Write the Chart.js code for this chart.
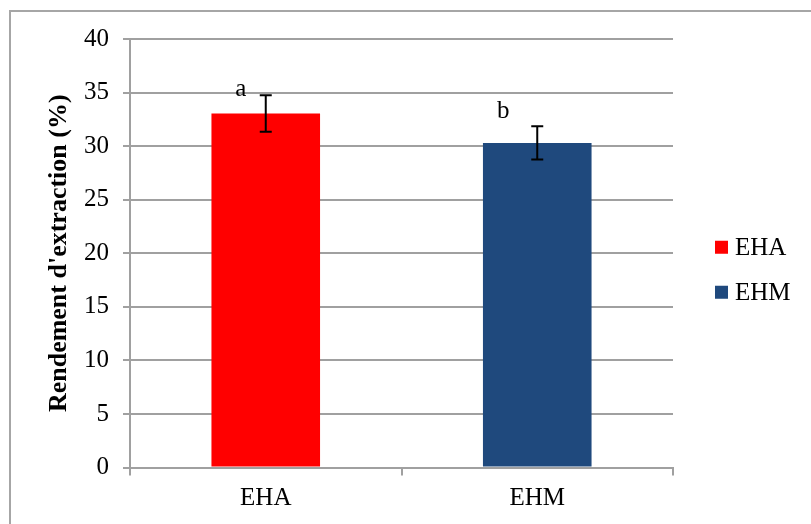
<!DOCTYPE html>
<html>
<head>
<meta charset="utf-8">
<script src="https://cdn.jsdelivr.net/npm/chart.js@4/dist/chart.umd.min.js"></script>
<style>
  body { margin: 0; background: #fff; }
  #wrap { position: relative; width: 811px; height: 524px; overflow: hidden; }
  #frame { position: absolute; left: 9px; top: 10px; width: 900px; height: 600px;
           border-left: 2px solid #a6a6a6; border-top: 2px solid #a6a6a6; }
  canvas { position: absolute; left: 0; top: 0; }
</style>
</head>
<body>
<div id="wrap">
  <div id="frame"></div>
  <canvas id="chart" width="811" height="524"></canvas>
</div>
<script>
const categories = ['EHA', 'EHM'];
const values = [33.05, 30.3];
const errors = [1.7, 1.55];
const letters = ['a', 'b'];
const yTicks = [0, 5, 10, 15, 20, 25, 30, 35, 40];

const barColors = ['#ff0000', '#1f497d'];
const serif = "'Liberation Serif', 'Times New Roman', serif";

// one dataset per category so the legend lists both
function getDataSets() {
  return categories.map((c, i) => ({
    label: c,
    data: categories.map((_, j) => (j === i ? values[i] : null)),
    errors: categories.map((_, j) => (j === i ? errors[i] : null)),
    backgroundColor: barColors[i],
    categoryPercentage: 1,
    barPercentage: 0.4,
    grouped: false
  }));
}

const errorBars = {
  id: 'errorBars',
  afterDatasetsDraw(chart, args, opts) {
    const ctx = chart.ctx;
    const y = chart.scales.y;
    ctx.save();
    ctx.strokeStyle = '#000';
    ctx.lineWidth = 2;
    chart.data.datasets.forEach((ds, di) => {
      const meta = chart.getDatasetMeta(di);
      meta.data.forEach((bar, i) => {
        if (ds.data[i] == null) return;
        const v = ds.data[i], e = ds.errors[i];
        const top = y.getPixelForValue(v + e);
        const bot = y.getPixelForValue(v - e);
        const x = bar.x;
        ctx.beginPath();
        ctx.moveTo(x, top); ctx.lineTo(x, bot);
        ctx.moveTo(x - 6, top); ctx.lineTo(x + 6, top);
        ctx.moveTo(x - 6, bot); ctx.lineTo(x + 6, bot);
        ctx.stroke();
        // significance letter
        const off = opts.letterOffsets[i];
        ctx.fillStyle = '#000';
        ctx.font = '25px ' + serif;
        ctx.textAlign = 'center';
        ctx.textBaseline = 'alphabetic';
        ctx.fillText(letters[i], x + off[0], top + off[1]);
      });
    });
    ctx.restore();
  }
};

const sideLegend = {
  id: 'sideLegend',
  afterDraw(chart) {
    const ctx = chart.ctx;
    const area = chart.chartArea;
    const mid = (area.top + area.bottom) / 2 + 17;
    const gap = 45;
    const n = chart.data.datasets.length;
    ctx.save();
    ctx.font = '25px ' + serif;
    ctx.textBaseline = 'middle';
    ctx.textAlign = 'left';
    chart.data.datasets.forEach((ds, i) => {
      const cy = mid + (i - (n - 1) / 2) * gap;
      ctx.fillStyle = ds.backgroundColor;
      ctx.fillRect(area.right + 42, cy - 7, 13, 13);
      ctx.fillStyle = '#000';
      ctx.fillText(ds.label, area.right + 62, cy + 1);
    });
    ctx.restore();
  }
};

new Chart(document.getElementById('chart'), {
  type: 'bar',
  data: { labels: categories, datasets: getDataSets() },
  plugins: [errorBars, sideLegend],
  options: {
    responsive: false,
    animation: false,
    layout: { padding: { top: 39, right: 138, bottom: 0, left: 0 } },
    plugins: {
      legend: { display: false },
      tooltip: { enabled: false },
      errorBars: { letterOffsets: [[-25, 1], [-34, -8]] }
    },
    scales: {
      x: {
        grid: { drawOnChartArea: false, drawTicks: true, tickLength: 8, color: '#a0a0a0', lineWidth: 2 },
        border: { color: '#a0a0a0', width: 2 },
        ticks: { color: '#000', font: { family: serif, size: 25 }, padding: 8 },
        afterFit(scale) { scale.height = 56.5; }
      },
      y: {
        min: 0, max: 40,
        afterBuildTicks(scale) { scale.ticks = yTicks.map(v => ({ value: v })); },
        grid: { color: '#a0a0a0', lineWidth: 2, tickLength: 7 },
        border: { color: '#a0a0a0', width: 2 },
        ticks: { color: '#000', font: { family: serif, size: 25 }, padding: 14 },
        title: {
          display: true,
          text: "Rendement d'extraction (%)",
          color: '#000',
          font: { family: serif, size: 26, weight: 'bold' },
          padding: { top: 44, bottom: 0 }
        },
        afterFit(scale) { scale.width = 130; }
      }
    }
  }
});
</script>
</body>
</html>
